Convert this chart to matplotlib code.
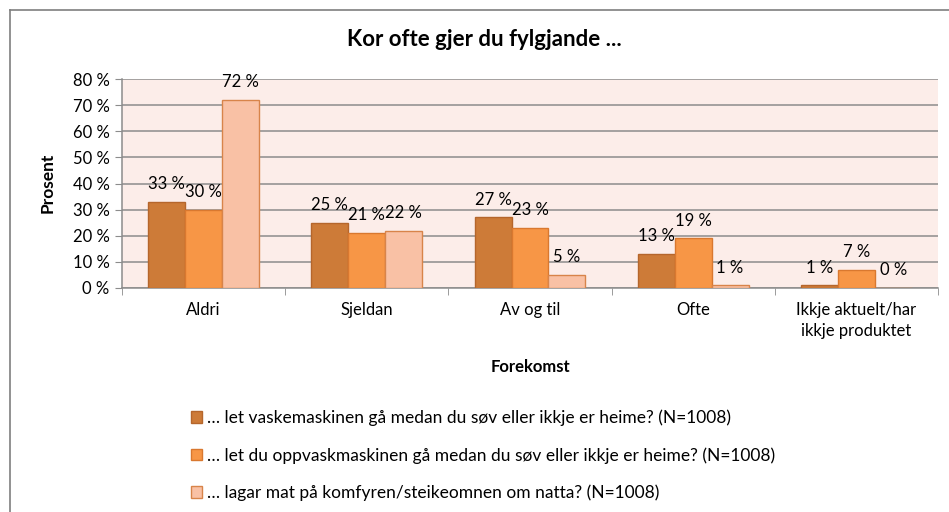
import numpy as np
import matplotlib.pyplot as plt
from matplotlib.lines import Line2D

plt.rcParams['font.family'] = ['Lato', 'DejaVu Sans']

categories = ['Aldri', 'Sjeldan', 'Av og til', 'Ofte', 'Ikkje aktuelt/har\nikkje produktet']
vaske = [33, 25, 27, 13, 1]
oppvask = [30, 21, 23, 19, 7]
komfyr = [72, 22, 5, 1, 0]
series_names = [
    '… let vaskemaskinen gå medan du søv eller ikkje er heime? (N=1008)',
    '… let du oppvaskmaskinen gå medan du søv eller ikkje er heime? (N=1008)',
    '… lagar mat på komfyren/steikeomnen om natta? (N=1008)',
]
yticks = [0, 10, 20, 30, 40, 50, 60, 70, 80]

colors = ['#CD7B38', '#F79646', '#F9C1A5']
edges = ['#B5662C', '#D9782F', '#D8844A']

fig = plt.figure(figsize=(9.49, 5.12), dpi=100)
ax = fig.add_axes([122/949, 1 - 288/512, 816/949, 209/512])

# outer chart border, only top and left edges are inside the image
bx, by = 10/949, 1 - 10/512
fig.add_artist(Line2D([bx, 1.0], [by, by], transform=fig.transFigure, color='#7f7f7f', lw=1.2))
fig.add_artist(Line2D([bx, bx], [0.0, by], transform=fig.transFigure, color='#7f7f7f', lw=1.2))

ax.set_facecolor('#FCEDE9')
x = np.arange(len(categories))
w = 0.226
for i, vals in enumerate([vaske, oppvask, komfyr]):
    bars = ax.bar(x + (i - 1) * w, vals, w, color=colors[i], edgecolor=edges[i],
                  linewidth=1.0, label=series_names[i], zorder=3)
    for b, v in zip(bars, vals):
        ax.annotate(f'{v} %', (b.get_x() + b.get_width() / 2, v), xytext=(0, 7),
                    textcoords='offset points', ha='center', va='bottom', fontsize=12,
                    color='#000000', zorder=4)

ax.set_xlim(-0.5, len(categories) - 0.5)
ax.set_ylim(0, 80)
ax.set_yticks(yticks)
ax.set_yticklabels([f'{t} %' for t in yticks], fontsize=12)
ax.yaxis.grid(True, color='#8c8c8c', linewidth=1.1, zorder=0)
ax.set_axisbelow(True)

ax.set_xticks(x)
ax.set_xticklabels(categories, fontsize=12, linespacing=1.4)
ax.set_xticks(np.arange(-0.5, len(categories)), minor=True)
ax.tick_params(axis='x', which='major', length=0, pad=10)
ax.tick_params(axis='x', which='minor', length=5, color='#8c8c8c')
ax.tick_params(axis='y', length=5, color='#8c8c8c', pad=4)

for s in ['top', 'right']:
    ax.spines[s].set_visible(False)
for s in ['left', 'bottom']:
    ax.spines[s].set_color('#8c8c8c')
    ax.spines[s].set_linewidth(1.1)

fig.text(48/949, 1 - 183/512, 'Prosent', rotation=90, ha='center', va='center',
         fontsize=12.5, fontweight='bold')
fig.text(530/949, 1 - 367/512, 'Forekomst', ha='center', va='center', fontsize=12, fontweight='bold')
fig.text(484/949, 1 - 40/512, 'Kor ofte gjer du fylgjande ...', ha='center', va='center',
         fontsize=16, fontweight='bold')

handles, labels = ax.get_legend_handles_labels()
fig.legend(handles, labels, loc='upper left', bbox_to_anchor=(182/949, 1 - 401/512),
           frameon=False, fontsize=12.5, borderpad=0, handlelength=0.63, handleheight=0.63,
           handletextpad=0.3, labelspacing=1.2)

fig.savefig('out.png', dpi=100)
